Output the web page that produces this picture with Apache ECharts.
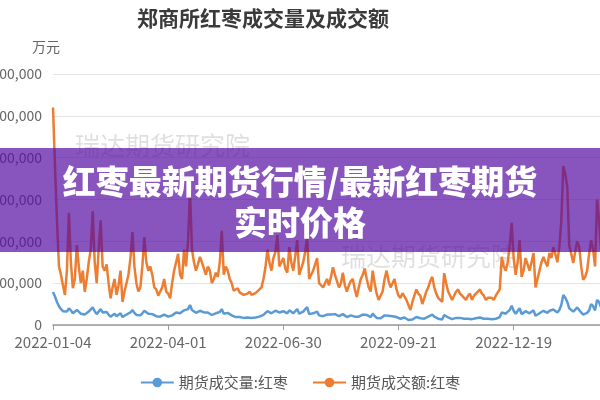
<!DOCTYPE html>
<html>
<head>
<meta charset="utf-8">
<script src="https://cdn.jsdelivr.net/npm/echarts@6/dist/echarts.min.js"></script>
<style>
html,body{margin:0;padding:0;width:600px;height:400px;overflow:hidden;background:#fff;}
#c{position:absolute;left:-20px;top:0;width:640px;height:400px;}
</style>
</head>
<body>
<div id="c"></div>
<script>
// Exchange closure days (trading calendar) used to list the trading-day categories
var holidays = ['2022-01-03','2022-01-31','2022-02-01','2022-02-02','2022-02-03','2022-02-04',
  '2022-04-04','2022-04-05','2022-05-02','2022-05-03','2022-05-04','2022-06-03','2022-09-12',
  '2022-10-03','2022-10-04','2022-10-05','2022-10-06','2022-10-07',
  '2023-01-02','2023-01-23','2023-01-24','2023-01-25','2023-01-26','2023-01-27'];
var startDate = '2022-01-04';
var dayCount = 279;

// 期货成交额:红枣 (万元)
var turnover = [
 520000,380000,250000,140000,120000,95000,72000,130000,268000,150000,
 88000,110000,191000,140000,100000,130000,79000,110000,150000,180000,
 272000,150000,100000,180000,250000,140000,130000,145000,100000,64000,
 90000,110000,72000,95000,130000,55000,80000,100000,120000,160000,
 222000,140000,100000,80000,90000,140000,210000,150000,130000,140000,
 120000,90000,85000,70000,72000,90000,110000,80000,75000,64000,
 100000,130000,150000,170000,120000,110000,180000,140000,200000,320000,
 180000,150000,130000,145000,163000,150000,135000,120000,140000,130000,
 100000,110000,125000,115000,150000,225000,120000,140000,130000,110000,
 100000,82000,80000,88000,78000,76000,72000,70000,75000,80000,
 72000,70000,76000,80000,85000,90000,110000,138000,180000,150000,
 130000,160000,175000,215000,140000,150000,160000,135000,125000,186000,
 150000,130000,165000,203000,120000,135000,150000,175000,210000,110000,
 120000,130000,145000,160000,100000,95000,90000,100000,110000,95000,
 115000,138000,120000,105000,90000,100000,125000,95000,80000,95000,
 105000,110000,85000,67000,90000,110000,120000,135000,110000,90000,
 80000,130000,100000,75000,60000,70000,80000,110000,130000,105000,
 90000,100000,110000,85000,70000,65000,76000,80000,60000,48000,
 36000,55000,70000,85000,75000,70000,50000,65000,80000,90000,
 105000,115000,90000,75000,65000,60000,55000,124000,100000,80000,
 70000,60000,70000,80000,85000,75000,70000,65000,60000,70000,
 75000,60000,70000,75000,80000,85000,75000,70000,60000,65000,
 68000,65000,60000,70000,78000,85000,163000,140000,130000,150000,
 190000,244000,160000,120000,150000,203000,115000,130000,160000,145000,
 130000,150000,172000,90000,110000,130000,150000,163000,150000,140000,
 172000,160000,186000,170000,150000,186000,250000,380000,360000,330000,
 190000,170000,148000,175000,200000,186000,140000,108000,115000,130000,
 170000,203000,180000,140000,300000,250000,180000,150000,160000
];

// 期货成交量:红枣
var volume = [
 79000,68000,55000,45000,38000,33000,30000,32000,40000,35000,
 28000,30000,36000,33000,27000,30000,25000,28000,32000,35000,
 42000,33000,26000,32000,38000,30000,29000,31000,25000,20000,
 24000,27000,21000,24000,28000,19000,22000,25000,27000,30000,
 36000,29000,24000,21000,23000,28000,34000,30000,27000,28000,
 26000,22000,21000,19000,20000,22000,25000,21000,20000,18000,
 23000,27000,30000,33000,28000,27000,35000,31000,38000,48000,
 36000,32000,29000,31000,34000,32000,30000,27000,30000,29000,
 24000,26000,28000,27000,31000,38000,27000,30000,29000,25000,
 23000,20000,19000,21000,19000,18000,17000,17000,18000,19000,
 17000,16000,18000,19000,20000,21000,24000,28000,33000,30000,
 28000,32000,34000,38000,30000,31000,33000,29000,28000,35000,
 31000,28000,33000,38000,27000,29000,32000,35000,43000,26000,
 27000,28000,30000,32000,23000,22000,21000,23000,25000,22000,
 25000,28000,26000,23000,21000,22000,26000,22000,19000,21000,
 23000,24000,20000,16000,20000,23000,25000,28000,24000,20000,
 19000,27000,22000,17000,15000,16000,18000,23000,27000,22000,
 20000,21000,23000,19000,16000,15000,17000,18000,15000,12000,
 10000,13000,16000,19000,17000,16000,13000,15000,18000,20000,
 22000,25000,20000,17000,15000,14000,13000,24000,21000,18000,
 16000,14000,15000,17000,18000,17000,16000,15000,14000,15000,
 16000,14000,15000,16000,17000,18000,17000,15000,14000,15000,
 15000,14000,14000,15000,17000,19000,30000,28000,27000,30000,
 36000,46000,34000,27000,31000,40000,26000,28000,33000,30000,
 28000,31000,35000,22000,25000,28000,32000,34000,31000,29000,
 34000,32000,37000,34000,30000,36000,48000,72000,65000,55000,
 40000,36000,32000,37000,42000,38000,30000,25000,27000,29000,
 35000,50000,45000,35000,60000,55000,42000,38000,40000
];

var seriesNames = ['期货成交量:红枣', '期货成交额:红枣'];
var titleText = '郑商所红枣成交量及成交额';
var unitText = '万元';
var watermarkText = '瑞达期货研究院';
var bannerLines = ['红枣最新期货行情/最新红枣期货', '实时价格'];

function pad(n){return n<10?'0'+n:''+n;}
function tradingDays(start, count){
  var out=[]; var d=new Date(start+'T00:00:00Z');
  while(out.length<count){
    var s=d.getUTCFullYear()+'-'+pad(d.getUTCMonth()+1)+'-'+pad(d.getUTCDate());
    var wd=d.getUTCDay();
    if(wd!==0 && wd!==6 && holidays.indexOf(s)<0) out.push(s);
    d.setUTCDate(d.getUTCDate()+1);
  }
  return out;
}
var categories = tradingDays(startDate, dayCount);

var font = '"Noto Sans CJK SC", "Noto Sans", sans-serif';
var chart = echarts.init(document.getElementById('c'));
chart.setOption({
  animation:false,
  backgroundColor:'#fff',
  textStyle:{fontFamily:font},
  title:{text:titleText,left:152,top:3,textStyle:{fontSize:21,fontWeight:'bold',color:'#3a3a3a',fontFamily:font}},
  legend:{
    data:seriesNames,bottom:5,left:'center',itemWidth:33,itemHeight:12,itemGap:24,
    textStyle:{fontSize:15,color:'#555',fontFamily:font}
  },
  grid:{left:73,right:15,top:74,bottom:75,containLabel:false},
  xAxis:{
    type:'category',data:categories,boundaryGap:false,
    axisLine:{lineStyle:{color:'#999',width:1.5}},
    axisTick:{interval:57,length:5,lineStyle:{color:'#999'}},
    axisLabel:{interval:57,fontSize:15,color:'#666',margin:10,fontFamily:font},
    splitLine:{show:false}
  },
  yAxis:{
    type:'value',min:0,max:600000,interval:100000,
    axisLine:{show:false},axisTick:{show:false},
    axisLabel:{fontSize:14,color:'#666',margin:11,fontFamily:font},
    splitLine:{lineStyle:{color:'#e3e3e3',width:1}}
  },
  series:[
    {name:seriesNames[0],type:'line',data:volume,symbol:'circle',symbolSize:10,showSymbol:false,
     itemStyle:{color:'#5B9BD5'},lineStyle:{width:2.5,color:'#5B9BD5'}},
    {name:seriesNames[1],type:'line',data:turnover,symbol:'circle',symbolSize:10,showSymbol:false,
     itemStyle:{color:'#ED7D31'},lineStyle:{width:2.5,color:'#ED7D31'}}
  ],
  graphic:[
    {type:'text',left:52,top:40,z:10,style:{text:unitText,fontSize:14,fill:'#666',fontFamily:font}},
    {type:'text',x:95,y:145,z:-1,style:{text:watermarkText,fontSize:25,fill:'rgba(0,0,0,0.13)',fontFamily:font,textVerticalAlign:'middle'}},
    {type:'text',x:361,y:256,z:-1,style:{text:watermarkText,fontSize:25,fill:'rgba(0,0,0,0.13)',fontFamily:font,textVerticalAlign:'middle'}},
    {type:'rect',shape:{x:0,y:148,width:640,height:104},z:100,style:{fill:'rgba(86,12,162,0.7)'}},
    {type:'text',x:320,y:181,z:101,style:{text:bannerLines[0],fontSize:33,fontWeight:900,fill:'#fff',fontFamily:font,textAlign:'center',textVerticalAlign:'middle'}},
    {type:'text',x:320,y:222,z:101,style:{text:bannerLines[1],fontSize:33,fontWeight:900,fill:'#fff',fontFamily:font,textAlign:'center',textVerticalAlign:'middle'}}
  ]
});
</script>
</body>
</html>
